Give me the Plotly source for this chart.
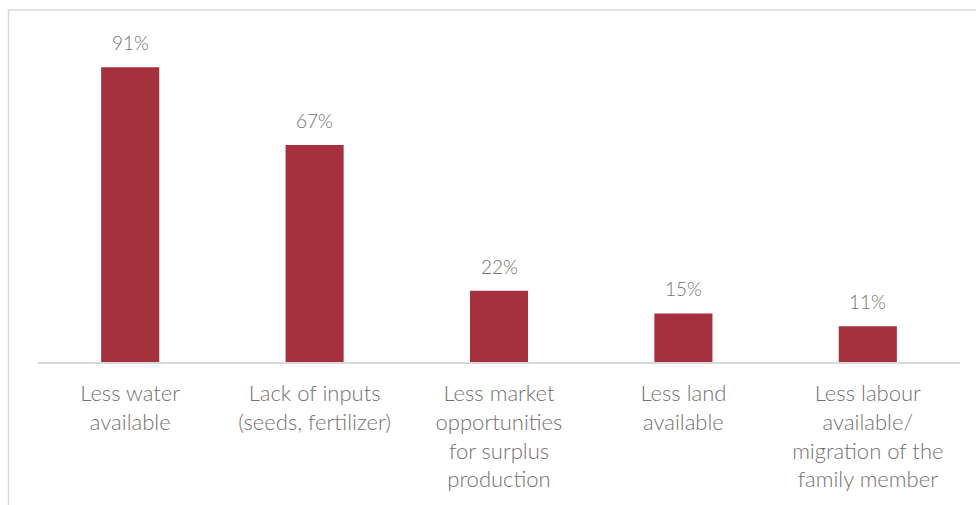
import plotly.graph_objects as go

# Reported constraints on crop production (share of respondents, %)
categories = [
    "Less water<br>available",
    "Lack of inputs<br>(seeds, fertilizer)",
    "Less market<br>opportunities<br>for surplus<br>production",
    "Less land<br>available",
    "Less labour<br>available/<br>migration of the<br>family member",
]
values = [91, 67, 22, 15, 11]
value_labels = ["91%", "67%", "22%", "15%", "11%"]

BAR_COLOR = "#A5303E"
TEXT_COLOR = "#767171"
LINE_COLOR = "#D9D9D9"
FONT = "Lato"

fig = go.Figure(
    go.Bar(
        x=categories,
        y=values,
        marker=dict(color=BAR_COLOR, line=dict(width=0)),
        width=0.315,
        hoverinfo="skip",
    )
)

# Value labels above each bar
for cat, val, lab in zip(categories, values, value_labels):
    fig.add_annotation(
        x=cat, y=val, text=lab, showarrow=False,
        yanchor="bottom", yshift=11,
        font=dict(family=FONT, size=19, color=TEXT_COLOR, weight=300),
    )

W, H = 976, 505
L, R, T, B = 38, 16, 38, 143
pw = W - L - R
ph = H - T - B

# Outer frame of the chart area
fig.add_shape(
    type="rect", xref="paper", yref="paper",
    x0=(8.5 - L) / pw, x1=(W + 20 - L) / pw,
    y0=-(B + 20) / ph, y1=(H - 10 - B) / ph,
    line=dict(color=LINE_COLOR, width=1.5), layer="below",
)

fig.update_layout(
    width=W, height=H,
    margin=dict(l=L, r=R, t=T, b=B, pad=0),
    paper_bgcolor="white", plot_bgcolor="white",
    showlegend=False,
    bargap=0.685,
    font=dict(family=FONT, size=22, color=TEXT_COLOR),
    xaxis=dict(
        showline=True, linecolor=LINE_COLOR, linewidth=2,
        showgrid=False, ticks="", ticklabelstandoff=11,
        tickfont=dict(family=FONT, size=22, color=TEXT_COLOR, weight=300),
    ),
    yaxis=dict(
        range=[0, 100], visible=False, showgrid=False, zeroline=False,
    ),
)

fig.write_html("out.html")
